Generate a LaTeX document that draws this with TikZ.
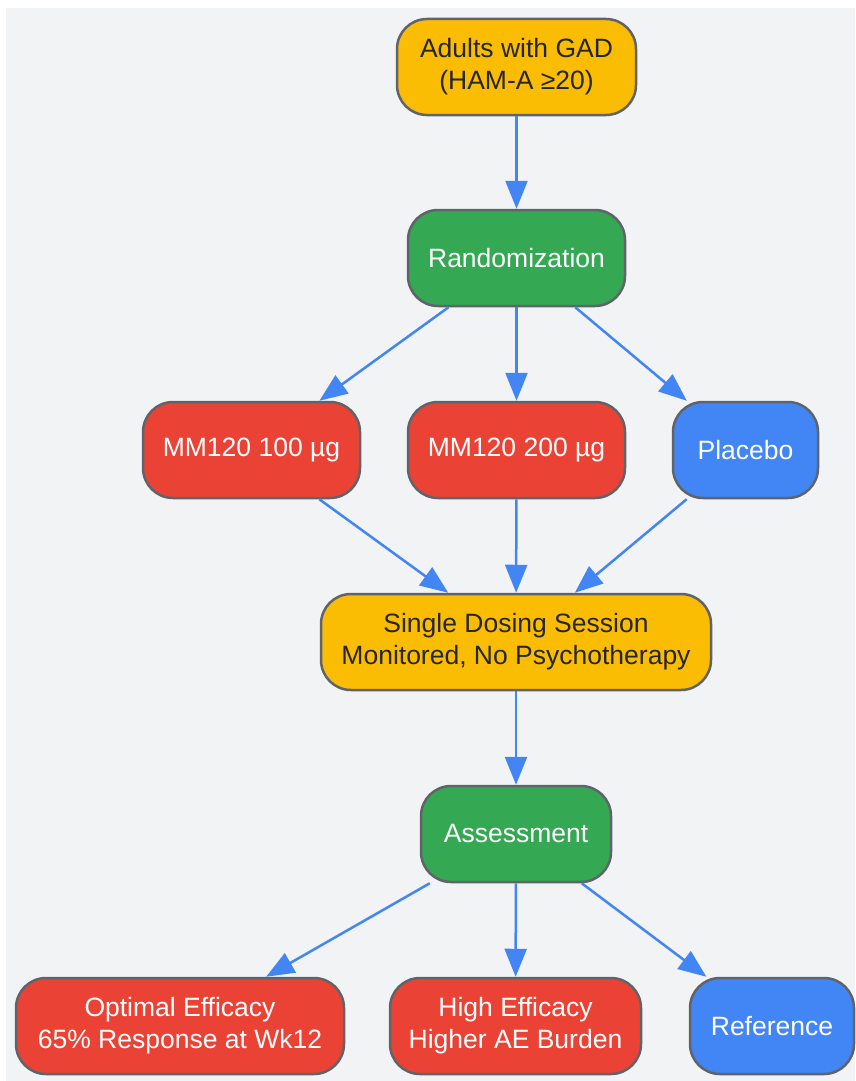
\documentclass[tikz,border=0pt]{standalone}
\usepackage{fontspec}
\setmainfont{Liberation Sans}
\usetikzlibrary{arrows.meta,shapes,positioning}
\definecolor{bggray}{HTML}{F1F3F5}
\definecolor{gyellow}{HTML}{FBBC04}
\definecolor{ggreen}{HTML}{34A853}
\definecolor{gred}{HTML}{EA4335}
\definecolor{gblue}{HTML}{4285F4}
\definecolor{rimgray}{HTML}{60646A}
\tikzset{
  >={Triangle[length=28pt,width=22pt]},
  stage/.style={
    rectangle,
    rounded corners=30pt,
    draw=rimgray, line width=2.5pt,
    minimum height=96pt,
    inner xsep=18pt,
    align=center,
    font=\fontsize{26.5}{32}\selectfont},
  yellowstage/.style={stage, fill=gyellow, text=black!85},
  greenstage/.style={stage, fill=ggreen, text=white},
  redstage/.style={stage, fill=gred, text=white},
  bluestage/.style={stage, fill=gblue, text=white},
  flow/.style={draw=gblue, line width=2.5pt, ->},
}
\begin{document}
\begin{tikzpicture}[x=1pt, y=-1pt]
    \useasboundingbox (0,0) rectangle (855,1081);
    \fill[bggray] (6,8) rectangle (855,1081);

    % nodes
    \node[yellowstage, minimum width=239pt] (adults) at (516.5,67)
         {Adults with GAD\\(HAM-A ≥20)};
    \node[greenstage, minimum width=217pt] (random) at (516.5,258)
         {Randomization};
    \node[redstage, minimum width=217pt] (dose100) at (251.5,450)
         {MM120 100 µg};
    \node[redstage, minimum width=217pt] (dose200) at (516.5,450)
         {MM120 200 µg};
    \node[bluestage, minimum width=145pt] (placebo) at (745.5,450)
         {Placebo};
    \node[yellowstage, minimum width=390pt] (session) at (516,642)
         {Single Dosing Session\\Monitored, No Psychotherapy};
    \node[greenstage, minimum width=190pt] (assess) at (516,834)
         {Assessment};
    \node[redstage, minimum width=328pt] (optimal) at (180,1026)
         {Optimal Efficacy\\65\% Response at Wk12};
    \node[redstage, minimum width=251pt] (higheff) at (515.5,1026)
         {High Efficacy\\Higher AE Burden};
    \node[bluestage, minimum width=164pt] (reference) at (772,1026)
         {Reference};

    % edges
    \draw[flow] (adults) -- (random);
    \draw[flow] (random) -- (dose100);
    \draw[flow] (random) -- (dose200);
    \draw[flow] (random) -- (placebo);
    \draw[flow] (dose100) -- (session);
    \draw[flow] (dose200) -- (session);
    \draw[flow] (placebo) -- (session);
    \draw[flow] (session) -- (assess);
    \draw[flow] (assess) -- (optimal);
    \draw[flow] (assess) -- (higheff);
    \draw[flow] (assess) -- (reference);

\end{tikzpicture}
\end{document}
